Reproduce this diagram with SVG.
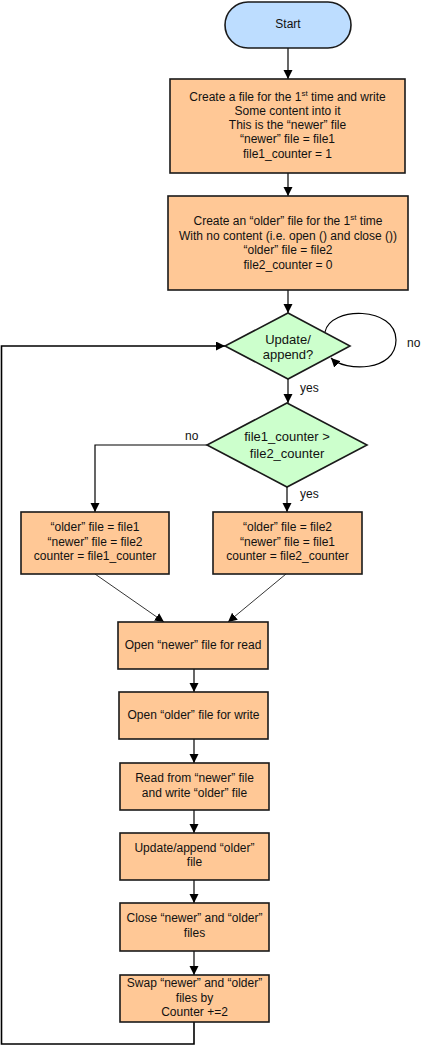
<svg xmlns="http://www.w3.org/2000/svg" width="422" height="1045" viewBox="0 0 422 1045">
<style>
text{font-family:"Liberation Sans",Arial,sans-serif;font-size:12px;fill:#111;text-anchor:middle}
.box{fill:#FFC896;stroke:#1a1a1a;stroke-width:1.6}
.dec{fill:#CCFFCC;stroke:#1a1a1a;stroke-width:1.6}
.term{fill:#BDDDFF;stroke:#1a1a1a;stroke-width:1.6}
.dt{font-size:13px}
.lbl{text-anchor:start}
.c{fill:none;stroke:#000;stroke-width:1.2}
.d{fill:none;stroke:#000;stroke-width:0.8}
.f{fill:none;stroke:#000;stroke-width:1.6}
</style>
<defs>
<marker id="ah" markerUnits="userSpaceOnUse" markerWidth="10" markerHeight="10" refX="9" refY="4.5" orient="auto">
<path d="M0,0 L9,4.5 L0,9 Z" fill="#000"/>
</marker>
</defs>
<g id="connectors">
<path class="c" d="M288,48 V79" marker-end="url(#ah)"/>
<path class="c" d="M288,173 V196" marker-end="url(#ah)"/>
<path class="c" d="M288,290 V313" marker-end="url(#ah)"/>
<path class="c" d="M325,332 C330,306 396,306 396,340 C396,372 345,372 331,358" marker-end="url(#ah)"/>
<path class="c" d="M288,379 V403" marker-end="url(#ah)"/>
<path class="c" d="M287,487 V512" marker-end="url(#ah)"/>
<path class="c" d="M207,445 H95 V512" marker-end="url(#ah)"/>
<path class="d" d="M95,574 L164,622" marker-end="url(#ah)"/>
<path class="d" d="M286,574 L228,622" marker-end="url(#ah)"/>
<path class="c" d="M194,669 V692" marker-end="url(#ah)"/>
<path class="c" d="M194,739 V763" marker-end="url(#ah)"/>
<path class="c" d="M194,810 V833" marker-end="url(#ah)"/>
<path class="c" d="M194,880 V903" marker-end="url(#ah)"/>
<path class="c" d="M194,951 V975" marker-end="url(#ah)"/>
<path class="f" d="M194,1022 V1044 H1.5 V346 H225" marker-end="url(#ah)"/>
<text class="lbl" x="407" y="347">no</text>
<text class="lbl" x="300" y="392">yes</text>
<text class="lbl" x="185" y="440">no</text>
<text class="lbl" x="300" y="498">yes</text>
</g>
<g id="start">
<rect class="term" x="225" y="2" width="126" height="46" rx="23"/>
<text x="288" y="28">Start</text>
</g>
<g id="create-newer">
<rect class="box" x="170" y="79" width="235" height="94"/>
<text x="287.5" y="101">Create a file for the 1<tspan font-size="8" dy="-5">st</tspan><tspan dy="5"> time and write</tspan></text>
<text x="287.5" y="115">Some content into it</text>
<text x="287.5" y="129">This is the “newer” file</text>
<text x="287.5" y="143">“newer” file = file1</text>
<text x="287.5" y="158">file1_counter = 1</text>
</g>
<g id="create-older">
<rect class="box" x="168" y="196" width="240" height="94"/>
<text x="288" y="225">Create an “older” file for the 1<tspan font-size="8" dy="-5">st</tspan><tspan dy="5"> time</tspan></text>
<text x="288" y="239.5">With no content (i.e. open () and close ())</text>
<text x="288" y="254">“older” file = file2</text>
<text x="288" y="268.5">file2_counter = 0</text>
</g>
<g id="update-decision">
<polygon class="dec" points="288,313 350,346 288,379 225,346"/>
<text class="dt" x="288" y="344">Update/</text>
<text class="dt" x="288" y="359">append?</text>
</g>
<g id="counter-decision">
<polygon class="dec" points="287,403 367,445 287,487 207,445"/>
<text class="dt" x="287" y="441">file1_counter &gt;</text>
<text class="dt" x="287" y="458">file2_counter</text>
</g>
<g id="assign-left">
<rect class="box" x="21" y="512" width="148" height="62"/>
<text x="95" y="531">“older” file = file1</text>
<text x="95" y="546">“newer” file = file2</text>
<text x="95" y="560">counter = file1_counter</text>
</g>
<g id="assign-right">
<rect class="box" x="213" y="512" width="149" height="62"/>
<text x="287.5" y="531">“older” file = file2</text>
<text x="287.5" y="546">“newer” file = file1</text>
<text x="287.5" y="560">counter = file2_counter</text>
</g>
<g id="open-newer">
<rect class="box" x="118" y="622" width="150" height="47"/>
<text x="193" y="649">Open “newer” file for read</text>
</g>
<g id="open-older">
<rect class="box" x="119" y="692" width="149" height="47"/>
<text x="193.5" y="719">Open “older” file for write</text>
</g>
<g id="read-write">
<rect class="box" x="120" y="763" width="149" height="47"/>
<text x="194.5" y="782">Read from “newer” file</text>
<text x="194.5" y="797">and write “older” file</text>
</g>
<g id="update-older">
<rect class="box" x="120" y="833" width="149" height="47"/>
<text x="194.5" y="852">Update/append “older”</text>
<text x="194.5" y="866">file</text>
</g>
<g id="close-files">
<rect class="box" x="120" y="903" width="149" height="48"/>
<text x="194.5" y="922">Close “newer” and “older”</text>
<text x="194.5" y="937">files</text>
</g>
<g id="swap">
<rect class="box" x="120" y="975" width="149" height="47"/>
<text x="194.5" y="987">Swap “newer” and “older”</text>
<text x="194.5" y="1002">files by</text>
<text x="194.5" y="1016">Counter +=2</text>
</g>
</svg>
